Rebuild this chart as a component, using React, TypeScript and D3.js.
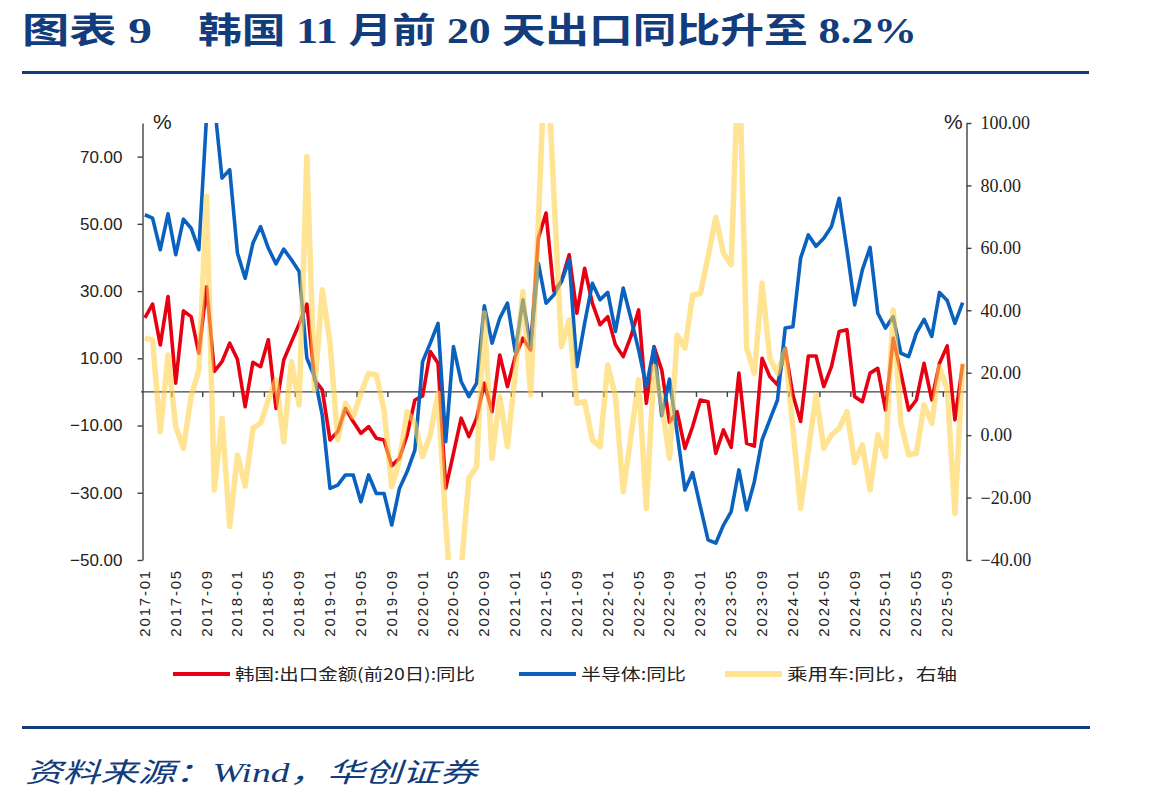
import React, { useEffect, useRef } from 'react';
import * as d3 from 'd3';

const W = 1149;
const H = 804;

// monthly categories 2017-01 .. 2025-11
const months: string[] = d3.range(107).map((i) => {
  const y = 2017 + Math.floor(i / 12);
  const m = (i % 12) + 1;
  return `${y}-${String(m).padStart(2, '0')}`;
});

// 韩国:出口金额(前20日):同比 (left axis, %)
const exportYoY = [
  22, 26.1, 14.0, 28.4, 2.6, 24.1, 22.4, 11.5, 31.3, 6.1, 9.0, 14.5,
  9.7, -4.4, 8.8, 7.5, 15.5, -4.9, 9.5, 14.9, 20.2, 26.1, 3.6, 0.6,
  -14.3, -11.8, -4.9, -8.8, -12.3, -10.3, -13.8, -14.3, -22.0, -19.7, -12.8, -2.4,
  -1.2, 12.0, 8.5, -28.7, -18.3, -7.8, -13.3, -7.8, 2.6, -5.9, 11.0, 1.6,
  10.5, 16.0, 12.5, 45.7, 53.2, 30.0, 33.0, 40.8, 23.4, 36.8, 26.4, 20.0,
  22.4, 14.0, 10.5, 16.5, 24.4, -3.4, 13.5, 6.5, -9.0, -5.9, -16.8, -10.3,
  -2.4, -2.9, -18.3, -11.3, -16.5, 5.6, -15.3, -16.1, 10.0, 4.6, 2.1, 13.0,
  -0.9, -8.8, 10.7, 10.7, 1.6, 7.5, 18.0, 18.5, -1.4, -2.9, 5.6, 7.0,
  -5.4, 16.0, 5.6, -5.4, -2.4, 8.5, -2.4, 8.5, 13.7, -8.3, 8.2,
];

// 半导体:同比 (left axis, %)
const chipYoY = [
  52.7, 51.7, 42.3, 53.0, 40.8, 51.4, 48.7, 42.3, 82, 86, 63.6, 66.1,
  41.3, 33.8, 44.2, 49.2, 42.8, 38.1, 42.5, 39.3, 35.8, 10.0, 4.5, -7.0,
  -28.7, -27.7, -24.7, -24.7, -32.7, -24.7, -30.2, -30.2, -39.6, -28.7, -23.7, -17.3,
  9.0, 14.5, 20.4, -14.8, 13.5, 3.1, -1.4, 2.6, 25.6, 14.5, 21.9, 26.4,
  12.0, 27.4, 13.5, 38.3, 26.4, 28.8, 32.8, 39.3, 7.5, 20.4, 32.3, 27.4,
  29.6, 18.0, 30.9, 21.9, 12.5, 1.6, 13.3, -7.1, 3.8, -12.3, -29.2, -24.0,
  -34.1, -44.0, -45.0, -39.6, -35.6, -23.2, -35.1, -26.7, -14.3, -8.3, -2.4, 19.0,
  19.4, 39.8, 46.7, 43.3, 45.7, 49.2, 57.6, 42.3, 25.9, 36.3, 43.0, 23.4,
  19.0, 22.4, 11.5, 10.5, 17.5, 21.6, 16.5, 29.6, 27.2, 20.4, 26.6,
];

// 乘用车:同比 (right axis, %)
const carYoY = [
  31.1, 30.5, 1.1, 25.7, 2.7, -4.2, 12.4, 20.9, 76.5, -17.6, 5.4, -29.3,
  -6.4, -16.3, 2.2, 3.8, 11.3, 17.7, -2.1, 23.6, 9.7, 89.3, 14.5, 46.6,
  29.5, -1.5, 10.2, 5.9, 13.4, 19.8, 19.3, 8.1, -16.5, -8.0, 7.5, 3.8,
  -6.9, 0.1, 13.4, -28.3, -62, -43, -13.8, -10.1, 39.1, -7.4, 12.4, -3.7,
  19.8, 46.0, 12.9, 68, 130, 78, 28.4, 36.9, 10.2, 10.8, -1.5, -3.7,
  22.5, 12.4, -18.1, -0.5, 17.7, -23.5, 22.0, 10, -7.4, 32.1, 27.9, 44.9,
  45.4, 57.2, 69.8, 58.3, 54.6, 125, 27.9, 19.8, 48.7, 24.7, 19.8, 27.3,
  2.2, -23.5, -5, 12.9, -4.2, 0.1, 2.2, 7.5, -8.8, -3.1, -17.6, 0.1,
  -6.9, 40.1, 3.8, -6.3, -5.8, 9.7, 3.8, 21.9, 14.5, -25.1, 23.0,
];

const leftTicks = [-50, -30, -10, 10, 30, 50, 70];
const rightTicks = [-40, -20, 0, 20, 40, 60, 80, 100];

const legendItems = [
  { label: '韩国:出口金额(前20日):同比', color: '#e60012', x: 173, textW: 240, width: 4, opacity: 1 },
  { label: '半导体:同比', color: '#0a62be', x: 519, textW: 105, width: 4, opacity: 1 },
  { label: '乘用车:同比，右轴', color: '#ffd24c', x: 725, textW: 170, width: 6, opacity: 0.6 },
];

const NAVY = '#123c7c';
const AXIS = '#404040';
const TITLE_FONT = '"Liberation Serif", "Noto Sans CJK SC", serif';

export default function App() {
  const svgRef = useRef<SVGSVGElement | null>(null);

  useEffect(() => {
    document.body.style.margin = '0';
    if (!svgRef.current) return;
    const svg = d3.select(svgRef.current);
    svg.selectAll('*').remove();

    const plot = { left: 141, right: 966.5, top: 123, bottom: 560 };

    const x = d3.scaleBand<string>().domain(months).range([plot.left, plot.right]);
    const cx = (i: number) => (x(months[i]) as number) + x.bandwidth() / 2;
    const yL = d3.scaleLinear().domain([-50, 80]).range([plot.bottom, plot.top]);
    const yR = d3.scaleLinear().domain([-40, 100]).range([plot.bottom, plot.top]);

    // title (number and caption set apart) + rules
    svg.append('text')
      .attr('x', 22).attr('y', 43)
      .attr('textLength', 130).attr('lengthAdjust', 'spacingAndGlyphs')
      .style('font-family', TITLE_FONT)
      .style('font-weight', 700).style('font-size', '35px').style('fill', NAVY)
      .text('图表 9');
    svg.append('text')
      .attr('x', 198).attr('y', 43)
      .attr('textLength', 719).attr('lengthAdjust', 'spacingAndGlyphs')
      .style('font-family', TITLE_FONT)
      .style('font-weight', 700).style('font-size', '35px').style('fill', NAVY)
      .text('韩国 11 月前 20 天出口同比升至 8.2%');

    svg.append('rect').attr('x', 22).attr('y', 71).attr('width', 1067).attr('height', 3).attr('fill', NAVY);
    svg.append('rect').attr('x', 22).attr('y', 726).attr('width', 1068).attr('height', 3).attr('fill', NAVY);

    svg.append('text')
      .attr('x', 25).attr('y', 782)
      .attr('textLength', 452).attr('lengthAdjust', 'spacingAndGlyphs')
      .style('font-family', TITLE_FONT)
      .style('font-style', 'italic').style('font-size', '27px').style('fill', NAVY)
      .text('资料来源：Wind，华创证券');

    // clip lines to the plot area
    svg.append('defs').append('clipPath').attr('id', 'plot-clip')
      .append('rect')
      .attr('x', plot.left).attr('y', plot.top)
      .attr('width', plot.right - plot.left).attr('height', plot.bottom - plot.top);

    // left axis
    const gl = svg.append('g').attr('transform', 'translate(142.5,0)')
      .call(d3.axisLeft(yL).tickValues(leftTicks).tickFormat(d3.format('.2f')).tickSize(5).tickSizeOuter(0));
    gl.select('.domain').attr('stroke', AXIS).attr('stroke-width', 1.4);
    gl.selectAll('.tick line').attr('stroke', AXIS).attr('stroke-width', 1.4);
    gl.selectAll('.tick text')
      .attr('x', -20)
      .style('font-family', '"Liberation Sans", sans-serif').style('font-size', '17px').style('fill', '#222');

    // right axis
    const gr = svg.append('g').attr('transform', `translate(${plot.right},0)`)
      .call(d3.axisRight(yR).tickValues(rightTicks).tickFormat(d3.format('.2f')).tickSize(5).tickSizeOuter(0));
    gr.select('.domain').attr('stroke', AXIS).attr('stroke-width', 1.4);
    gr.selectAll('.tick line').attr('stroke', AXIS).attr('stroke-width', 1.4);
    gr.selectAll('.tick text')
      .attr('x', 14)
      .style('font-family', '"Liberation Serif", serif').style('font-size', '18px').style('fill', '#222');

    svg.append('text').attr('x', 153).attr('y', 129)
      .style('font-family', '"Liberation Sans", sans-serif').style('font-size', '21px').style('fill', '#222').text('%');
    svg.append('text').attr('x', 944).attr('y', 129)
      .style('font-family', '"Liberation Sans", sans-serif').style('font-size', '21px').style('fill', '#222').text('%');

    // category axis at zero of the left scale
    const y0 = yL(0);
    svg.append('line')
      .attr('x1', plot.left).attr('x2', plot.right).attr('y1', y0).attr('y2', y0)
      .attr('stroke', AXIS).attr('stroke-width', 1.4);

    const tickIdx = d3.range(4, months.length, 4);
    svg.append('g').selectAll('line').data(tickIdx).enter().append('line')
      .attr('x1', (i) => x(months[i]) as number).attr('x2', (i) => x(months[i]) as number)
      .attr('y1', y0).attr('y2', y0 + 5)
      .attr('stroke', AXIS).attr('stroke-width', 1.4);

    const labelIdx = d3.range(0, months.length, 4);
    svg.append('g').selectAll('text').data(labelIdx).enter().append('text')
      .attr('transform', (i) => `translate(${cx(i) + 5},569) rotate(-90)`)
      .attr('text-anchor', 'end')
      .style('font-family', '"Liberation Sans", sans-serif').style('font-size', '15px')
      .style('letter-spacing', '1.8px').style('fill', '#222')
      .text((i) => months[i]);

    // series
    const lines = svg.append('g').attr('clip-path', 'url(#plot-clip)');
    const lineL = d3.line<number>().x((_, i) => cx(i)).y((d) => yL(d));
    const lineR = d3.line<number>().x((_, i) => cx(i)).y((d) => yR(d));

    lines.append('path').attr('d', lineL(exportYoY) as string)
      .attr('fill', 'none').attr('stroke', '#e60012').attr('stroke-width', 3.6).attr('stroke-linejoin', 'round');
    lines.append('path').attr('d', lineL(chipYoY) as string)
      .attr('fill', 'none').attr('stroke', '#0a62be').attr('stroke-width', 3.6).attr('stroke-linejoin', 'round');
    lines.append('path').attr('d', lineR(carYoY) as string)
      .attr('fill', 'none').attr('stroke', '#ffd24c').attr('stroke-opacity', 0.6)
      .attr('stroke-width', 5.5).attr('stroke-linejoin', 'round');

    // legend
    const lg = svg.append('g').selectAll('g').data(legendItems).enter().append('g');
    lg.append('line')
      .attr('x1', (d) => d.x).attr('x2', (d) => d.x + 57).attr('y1', 674).attr('y2', 674)
      .attr('stroke', (d) => d.color).attr('stroke-width', (d) => d.width).attr('stroke-opacity', (d) => d.opacity);
    lg.append('text')
      .attr('x', (d) => d.x + 62).attr('y', 680)
      .attr('textLength', (d) => d.textW).attr('lengthAdjust', 'spacingAndGlyphs')
      .style('font-family', '"Noto Sans CJK SC", sans-serif').style('font-size', '16px').style('fill', '#222')
      .text((d) => d.label);
  }, []);

  return (
    <svg ref={svgRef} width={W} height={H} style={{ display: 'block', background: '#fff' }} />
  );
}
